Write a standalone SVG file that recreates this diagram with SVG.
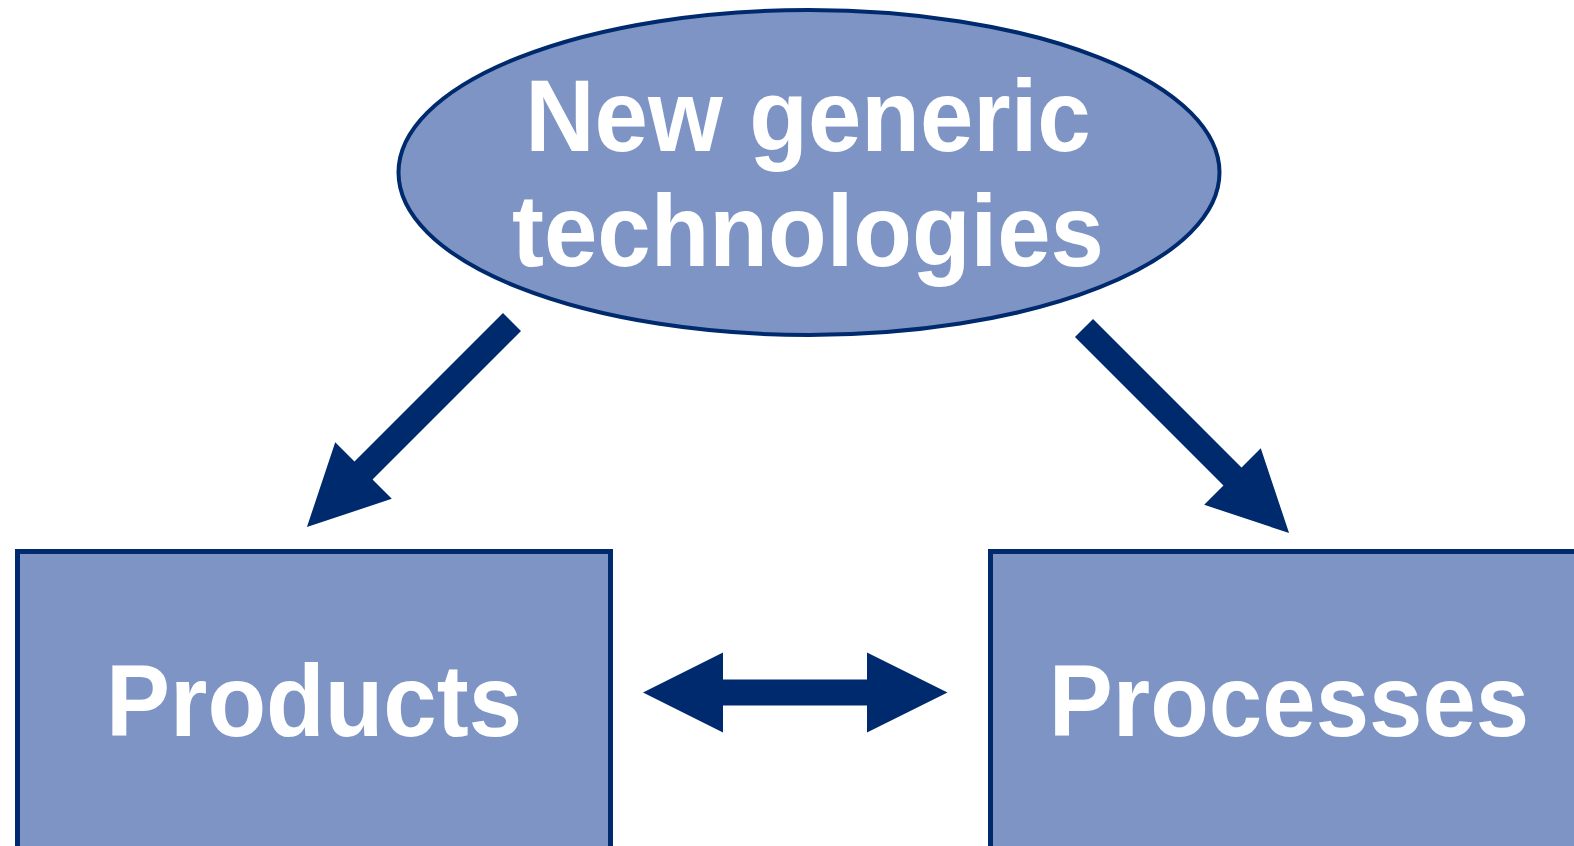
<svg xmlns="http://www.w3.org/2000/svg" width="1574" height="846" viewBox="0 0 1574 846">
<style>
.node{fill:#7E94C4;stroke:#002A6E;stroke-width:5}
.lbl{fill:#ffffff;font-family:"Liberation Sans",Arial,sans-serif;font-weight:bold;font-size:96px;text-anchor:middle}
.arr{fill:#002A6E;stroke:none}
</style>
<defs>
<polygon id="diag" points="0,-12.75 210,-12.75 210,-40 290,0 210,40 210,12.75 0,12.75"/>
</defs>
<rect width="1574" height="846" fill="#ffffff"/>
<g id="node-tech">
<ellipse class="node" cx="809" cy="172.5" rx="410.5" ry="162.5" style="stroke-width:4"/>
<text class="lbl" transform="translate(808,150.5) scale(1,1.07)">New generic</text>
<text class="lbl" transform="translate(808,266) scale(1,1.07)">technologies</text>
</g>
<g id="node-products">
<rect class="node" x="17.5" y="551.5" width="593" height="400"/>
<text class="lbl" transform="translate(314,736) scale(1,1.07)">Products</text>
</g>
<g id="node-processes">
<rect class="node" x="990.5" y="551.5" width="593" height="400"/>
<text class="lbl" transform="translate(1289,736) scale(1,1.07)">Processes</text>
</g>
<g id="connectors">
<use href="#diag" class="arr" transform="translate(512,322) rotate(135)"/>
<use href="#diag" class="arr" transform="translate(1084,328) rotate(45)"/>
<polygon class="arr" points="643,692.5 723,652.5 723,679.5 867,679.5 867,652.5 947.5,692.5 867,732.5 867,705.5 723,705.5 723,732.5"/>
</g>
</svg>
